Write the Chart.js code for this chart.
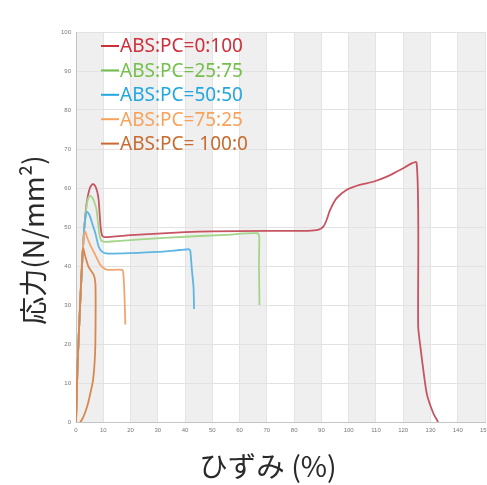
<!DOCTYPE html>
<html>
<head>
<meta charset="utf-8">
<script src="https://cdn.jsdelivr.net/npm/chart.js@4.4.1/dist/chart.umd.min.js"></script>
<style>
  html, body { margin: 0; padding: 0; background: #fff; }
  #wrap { position: relative; width: 487px; height: 485px; }
</style>
</head>
<body>
<div id="wrap"><canvas id="chart"></canvas></div>
<script>
// series names (legend) and colours
const seriesLabels = ['ABS:PC=0:100', 'ABS:PC=25:75', 'ABS:PC=50:50', 'ABS:PC=75:25', 'ABS:PC= 100:0'];
const legendColors = ['#cf2f3b', '#74c04b', '#22a7e0', '#f7a35c', '#c86b2e'];
const lineColors = ['#c65461', '#a3d68a', '#5fb6e2', '#f1a672', '#d9874e'];

// strain (%) / stress (N/mm2)
const strain0_100 = [0, 0.5, 1, 1.5, 2, 2.5, 3, 3.5, 4, 5, 6, 6.6, 7.2, 7.8, 8.3, 8.7, 9.1, 9.6, 10.5, 20, 30, 40, 50, 70, 85, 89, 90.7, 91.9, 93.2, 95.6, 99.2, 104, 109, 114, 118.8, 124.9, 125.5, 126.3, 128.6, 131, 132.8];
const stress0_100 = [0, 13, 22, 30, 37, 44, 49.5, 53.5, 56.5, 59.8, 61, 60.9, 60.3, 59, 57, 53, 49.5, 47.8, 47.4, 47.9, 48.3, 48.7, 48.9, 49, 49, 49.3, 50.1, 51.8, 54.4, 57.4, 59.5, 60.8, 61.6, 62.9, 64.6, 66.5, 24.4, 19.3, 7.4, 2.3, 0];

const strain25_75 = [0, 0.5, 1, 1.5, 2, 2.5, 3, 3.5, 4, 4.7, 5.3, 6, 6.8, 7.5, 8, 8.5, 9.2, 10.5, 15, 25, 40, 55, 66.6, 67.2, 67.1, 67.3];
const stress25_75 = [0, 13, 22, 30, 37, 44, 49.5, 53, 56, 57.7, 58, 57.5, 56.3, 54.5, 51.5, 48.5, 46.6, 46.2, 46.4, 46.9, 47.5, 48, 48.4, 47.5, 40, 30];

const strain50_50 = [0, 0.5, 1, 1.5, 2, 2.5, 3, 3.5, 4, 4.6, 5.2, 6, 7.1, 8.3, 9.5, 11.4, 20, 30, 38, 41.3, 41.9, 42.5, 43.1, 43.3];
const stress50_50 = [0, 13, 22, 30, 37, 44, 49.5, 52.5, 53.9, 53.5, 52.6, 50.8, 48.4, 45, 43.7, 43.2, 43.3, 43.6, 44.1, 44.3, 44, 39, 34.6, 29];

const strain75_25 = [0, 0.5, 1, 1.5, 2, 2.6, 3, 3.4, 4, 5.2, 7.1, 8.9, 10.7, 12, 17, 17.4, 17.8, 18.1];
const stress75_25 = [0, 13, 22, 30, 38, 45, 48, 48.8, 47.5, 45.4, 42.8, 40.3, 39.2, 39, 39, 37.7, 32, 25];

const strain100_0 = [0, 0.5, 1, 1.5, 2, 2.4, 2.7, 3.2, 4.6, 6.5, 7.1, 7.2, 7.1, 6.8, 6.2, 5.3, 4.3, 3, 2, 1.5];
const stress100_0 = [0, 13, 22, 30, 38, 43.5, 44.5, 43, 39.8, 37.7, 35.6, 30, 20, 15, 10.5, 7.5, 4.5, 1.8, 0.4, 0];

const strainSets = [strain0_100, strain25_75, strain50_50, strain75_25, strain100_0];
const stressSets = [stress0_100, stress25_75, stress50_50, stress75_25, stress100_0];

const xTitle = 'ひずみ (%)';
const yTitle = '応力(N/mm²)';

const toPoints = (xs, ys) => xs.map((x, i) => ({ x: x, y: ys[i] }));

// grey bands on every other 10% column
const bandsPlugin = {
    id: 'bands',
    beforeDraw(chart) {
        const { ctx, chartArea, scales } = chart;
        ctx.save();
        ctx.fillStyle = '#efefef';
        for (let v = 0; v < 150; v += 20) {
            const x0 = scales.x.getPixelForValue(v);
            const x1 = scales.x.getPixelForValue(v + 10);
            ctx.fillRect(x0, chartArea.top, x1 - x0, chartArea.bottom - chartArea.top);
        }
        ctx.restore();
    }
};

// legend inside the plot + axis titles
const textPlugin = {
    id: 'texts',
    afterDraw(chart) {
        const { ctx } = chart;
        ctx.save();
        ctx.font = '19px "Noto Sans", sans-serif';
        ctx.textBaseline = 'middle';
        ctx.textAlign = 'left';
        seriesLabels.forEach((label, i) => {
            const y = 46 + i * 24.4;
            ctx.strokeStyle = legendColors[i];
            ctx.lineWidth = 2;
            ctx.beginPath();
            ctx.moveTo(101, y);
            ctx.lineTo(119, y);
            ctx.stroke();
            ctx.fillStyle = legendColors[i];
            ctx.fillText(label, 120, y + 1);
        });

        ctx.fillStyle = '#2a2a2a';
        ctx.font = '28.5px "Noto Sans CJK JP", sans-serif';
        ctx.textAlign = 'center';
        ctx.fillText(xTitle, 268, 466);

        ctx.font = '28px "Noto Sans CJK JP", sans-serif';
        ctx.translate(33, 240);
        ctx.rotate(-Math.PI / 2);
        ctx.fillText(yTitle, 0, 0);
        ctx.restore();
    }
};

const ctx = document.getElementById('chart').getContext('2d');
new Chart(ctx, {
    type: 'scatter',
    data: {
        datasets: seriesLabels.map((label, i) => ({
            label: label,
            data: toPoints(strainSets[i], stressSets[i]),
            showLine: true,
            borderColor: lineColors[i],
            backgroundColor: lineColors[i],
            borderWidth: 1.8,
            pointRadius: 0,
            tension: 0.2
        })).reverse()
    },
    options: {
        responsive: true,
        maintainAspectRatio: false,
        animation: false,
        layout: {
            padding: { top: 32, right: 2, left: 0, bottom: 0 }
        },
        plugins: {
            legend: { display: false },
            tooltip: { enabled: false }
        },
        scales: {
            x: {
                type: 'linear',
                min: 0,
                max: 150,
                ticks: {
                    stepSize: 10,
                    padding: 5,
                    color: '#777',
                    font: { size: 6 },
                    maxRotation: 0
                },
                grid: { color: '#e4e4e4', drawTicks: false },
                border: { color: '#c4c4c4' },
                afterFit(scale) {
                    scale.height = 63;
                    scale.paddingLeft = 0;
                    scale.paddingRight = 0;
                }
            },
            y: {
                min: 0,
                max: 100,
                ticks: {
                    stepSize: 10,
                    padding: 5,
                    color: '#777',
                    font: { size: 6 }
                },
                grid: { color: '#e2e2e2', drawTicks: false },
                border: { color: '#c4c4c4' },
                afterFit(scale) {
                    scale.width = 76;
                    scale.paddingTop = 0;
                    scale.paddingBottom = 0;
                }
            }
        }
    },
    plugins: [bandsPlugin, textPlugin]
});
</script>
</body>
</html>
